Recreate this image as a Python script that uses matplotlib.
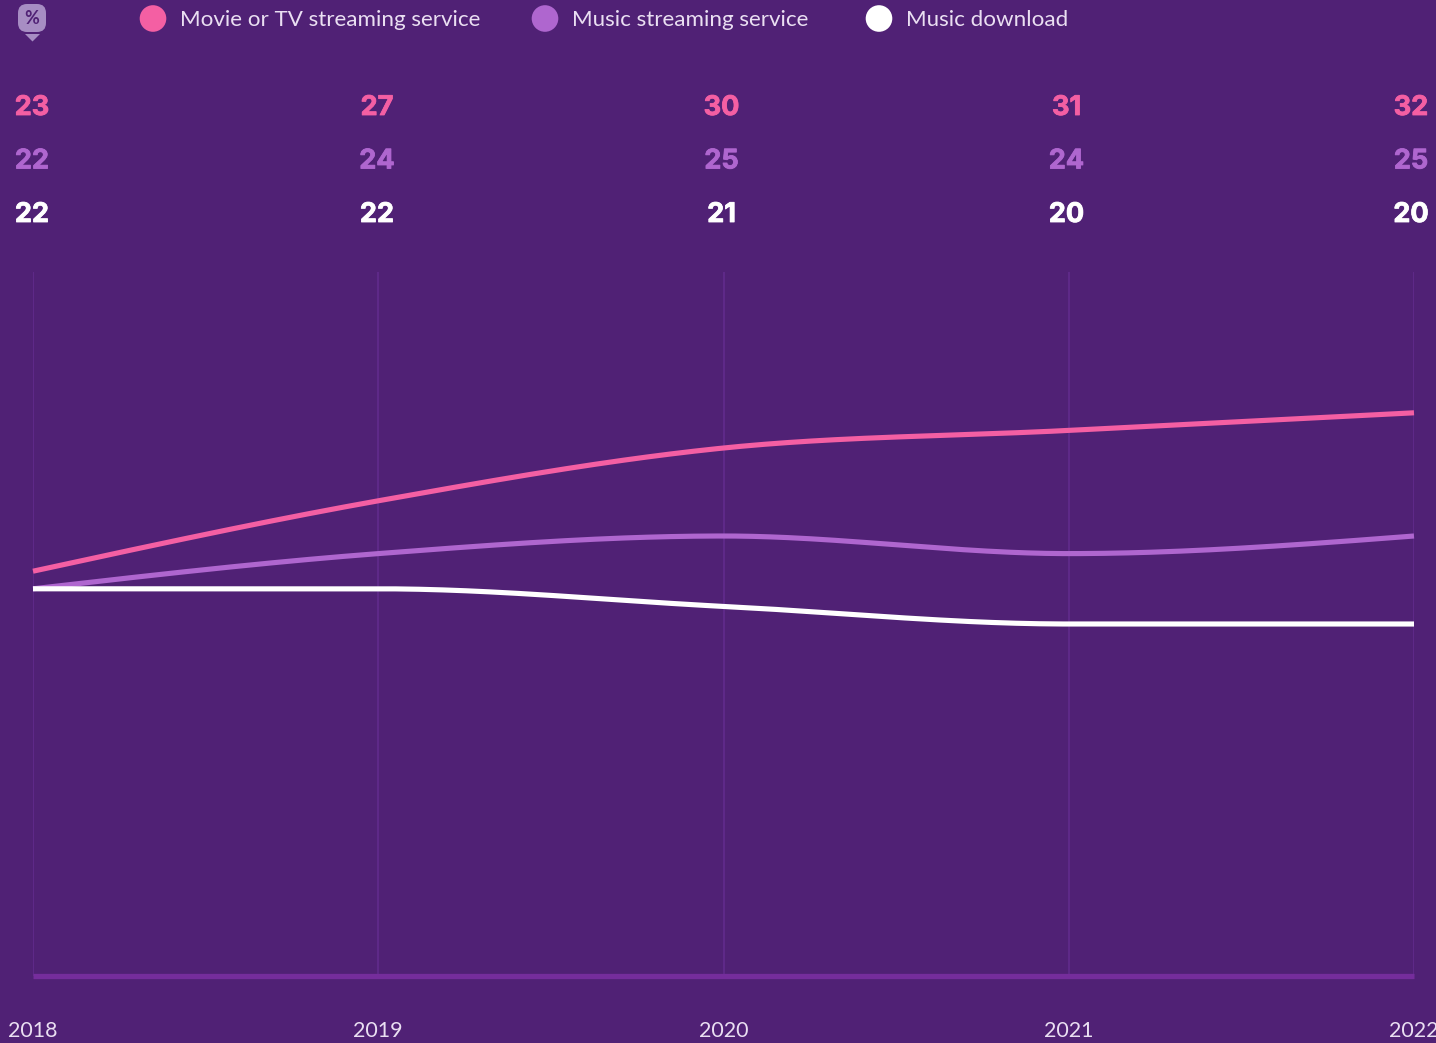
import numpy as np
import matplotlib
matplotlib.use("Agg")
import matplotlib.pyplot as plt
from matplotlib.patches import FancyBboxPatch, Polygon, Circle
import matplotlib.patheffects as pe

years = [2018, 2019, 2020, 2021, 2022]
series_names = ["Movie or TV streaming service", "Music streaming service", "Music download"]
movie_tv = [23, 27, 30, 31, 32]
music_streaming = [22, 24, 25, 24, 25]
music_download = [22, 22, 21, 20, 20]

BG = "#502175"
GRID = "#612B8C"
BASE = "#752D9C"
PINK = "#F45FA3"
LILAC = "#AF66CF"
WHITE = "#FFFFFF"
LABEL = "#EADFF2"
W, H = 1436, 1043


def monotone_curve(x, y, n=60):
    """Monotone cubic Hermite drawing of the line through the data points."""
    x = np.asarray(x, float)
    y = np.asarray(y, float)
    h = np.diff(x)
    s = np.diff(y) / h
    m = np.zeros_like(y)
    for i in range(1, len(x) - 1):
        if s[i - 1] * s[i] > 0:
            p = (s[i - 1] * h[i] + s[i] * h[i - 1]) / (h[i - 1] + h[i])
            m[i] = (np.sign(s[i - 1]) + np.sign(s[i])) * min(abs(s[i - 1]), abs(s[i]), 0.5 * abs(p))
    m[0] = (3 * s[0] - m[1]) / 2
    m[-1] = (3 * s[-1] - m[-2]) / 2
    xs, ys = [], []
    for i in range(len(h)):
        t = np.linspace(0, 1, n)
        a = (1 + 2 * t) * (1 - t) ** 2
        b = t * (1 - t) ** 2
        c = t ** 2 * (3 - 2 * t)
        d = t ** 2 * (t - 1)
        xs.append(x[i] + t * h[i])
        ys.append(a * y[i] + b * h[i] * m[i] + c * y[i + 1] + d * h[i] * m[i + 1])
    return np.concatenate(xs), np.concatenate(ys)


plt.rcParams["font.family"] = ["Lato", "DejaVu Sans"]
fig = plt.figure(figsize=(W / 100, H / 100), dpi=100, facecolor=BG)

ax = fig.add_axes([33 / W, 1 - 976 / H, (1414 - 33) / W, (976 - 272) / H])
ax.set_facecolor(BG)
ax.set_xlim(years[0], years[-1])
ax.set_ylim(0, 40)
for s in ax.spines.values():
    s.set_visible(False)
ax.set_yticks([])
ax.set_xticks(years)
ax.set_xticklabels([str(y) for y in years], fontsize=15.4, color=LABEL)
ax.tick_params(axis="x", length=0, pad=32.5)
ax.grid(axis="x", color=GRID, lw=1.2)
ax.axhline(0, color=BASE, lw=3.8, clip_on=False, solid_capstyle="butt", zorder=2)
ax.set_axisbelow(True)

colors = [PINK, LILAC, WHITE]
rows = [movie_tv, music_streaming, music_download]
for vals, col in zip(rows, colors):
    cx, cy = monotone_curve(years, vals)
    ax.plot(cx, cy, color=col, lw=3.7, solid_capstyle="butt", zorder=3, clip_on=False)

# overlay in pixel coordinates for header elements
ov = fig.add_axes([0, 0, 1, 1], facecolor="none")
ov.set_xlim(0, W)
ov.set_ylim(H, 0)
ov.axis("off")

# value rows
row_y = [105, 158.5, 212]
col_x = [32, 377, 721.5, 1066.5, 1411]
for vals, col, ry in zip(rows, colors, row_y):
    for v, cxp in zip(vals, col_x):
        ov.text(cxp, ry, str(v), color=col, fontsize=19.5, fontweight="bold",
                family=["Inter", "DejaVu Sans"], ha="center", va="center_baseline",
                path_effects=[pe.withStroke(linewidth=0.6, foreground=col)])

# legend
leg_cx = [153, 545, 879]
leg_tx = [180, 572, 906]
for name, col, c, t in zip(series_names, colors, leg_cx, leg_tx):
    ov.add_patch(Circle((c, 18.5), 13.3, color=col, lw=0))
    ov.text(t, 19.5, name, color=LABEL, fontsize=16.1, ha="left", va="center")

# unit badge
ov.add_patch(FancyBboxPatch((23, 9), 18, 18, boxstyle="round,pad=5,rounding_size=9",
                            fc="#A78DC3", ec="none"))
ov.add_patch(Polygon([[25, 34], [40, 34], [32.5, 41.5]], closed=True, fc="#A78DC3", ec="none"))
ov.text(32, 18, "%", color=BG, fontsize=13, fontweight="bold", ha="center", va="center")

fig.savefig("out.png", dpi=100, facecolor=BG)
